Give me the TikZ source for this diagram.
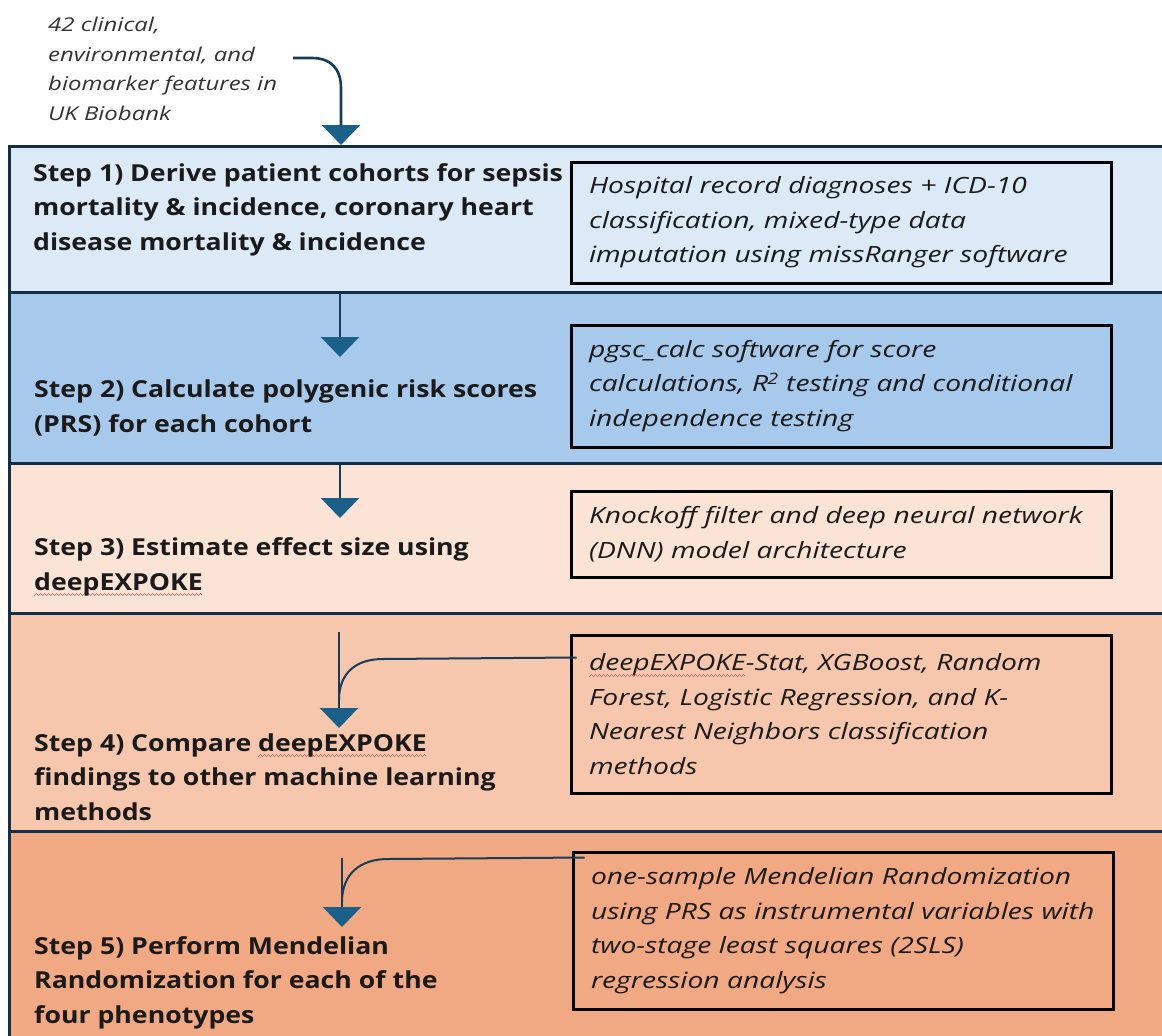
\documentclass[tikz,border=0pt]{standalone}
\usepackage{fontspec}
\setmainfont{Open Sans}[BoldFeatures={FakeStretch=1.14}, ItalicFeatures={FakeStretch=1.26}]
\usetikzlibrary{arrows.meta}
\definecolor{bandA}{HTML}{DCE9F7}
\definecolor{bandB}{HTML}{A7C9EB}
\definecolor{bandC}{HTML}{FBE3D6}
\definecolor{bandD}{HTML}{F6C6AD}
\definecolor{bandE}{HTML}{F1A983}
\definecolor{bordercol}{HTML}{132F45}
\definecolor{stemcol}{HTML}{163D57}
\definecolor{headcol}{HTML}{1A6089}
\definecolor{squig}{HTML}{E0605A}
\definecolor{txt}{HTML}{1A1A1A}
\newsavebox\spellbox
\newcommand\spellmark{\hbox{\begingroup\color{squig}\rule[-6pt]{1pt}{1pt}\rule[-5pt]{1pt}{1pt}\rule[-4pt]{1pt}{1pt}\rule[-5pt]{1pt}{1pt}\endgroup}}
\newcommand\spell[1]{\sbox\spellbox{#1}\rlap{\hbox to \wd\spellbox{\leaders\spellmark\hfill}}\usebox\spellbox}
\newcommand\oneline[1]{\mbox{#1}}
\begin{document}
\begin{tikzpicture}[x=1pt,y=-1pt,
  band/.style={draw=bordercol, line width=3pt, anchor=north west, minimum width=1180pt, inner sep=0pt},
  stepbox/.style={anchor=base west, align=left, inner sep=0pt, text=txt,
     font=\bfseries\fontsize{23.4}{34.5}\selectfont},
  infobox/.style={draw=black, line width=3pt, minimum width=540pt, text width=504pt,
     inner xsep=18pt, inner ysep=0pt, align=left, text=txt,
     font=\itshape\fontsize{22.4}{34.5}\selectfont},
  conn/.style={draw=stemcol, line width=2.6pt,
     -{Triangle[width=38pt,length=20pt,color=headcol]}},
  feed/.style={draw=stemcol, line width=2pt}]
\clip (0,0) rectangle (1162,1036);
\fill[white] (0,0) rectangle (1162,1036);
% bands
\node[band, fill=bandA, minimum height=146pt] (b1) at (8,145) {};
\node[band, fill=bandB, minimum height=171pt] (b2) at (8,291) {};
\node[band, fill=bandC, minimum height=150pt] (b3) at (8,462) {};
\node[band, fill=bandD, minimum height=218pt] (b4) at (8,612) {};
\node[band, fill=bandE, minimum height=230pt] (b5) at (8,830) {};
% top text (anchor = baseline of last line)
\node[anchor=base west, align=left, inner sep=0pt, text=black!80,
  font=\itshape\fontsize{19}{29.4}\selectfont] (t0) at (48,120)
  {42 clinical,\\environmental, and\\biomarker features in\\UK Biobank};
% step texts (anchor = baseline of last line)
\node[stepbox] (s1) at (33,250) {Step 1) Derive patient cohorts for sepsis\\mortality \& incidence, coronary heart\\disease mortality \& incidence};
\node[stepbox] (s2) at (34,432) {Step 2) Calculate polygenic risk scores\\(PRS) for each cohort};
\node[stepbox] (s3) at (34,590) {Step 3) Estimate effect size using\\\spell{deepEXPOKE}};
\node[stepbox] (s4) at (34,820) {Step 4) Compare \spell{deepEXPOKE}\\findings to other machine learning\\methods};
\node[stepbox] (s5) at (34,1023) {Step 5) Perform Mendelian\\Randomization for each of the\\four phenotypes};
% info boxes
\node[infobox, minimum height=121pt] (i1) at (841,222.5) {\oneline{Hospital record diagnoses + ICD-10}\\\oneline{classification, mixed-type data}\\\oneline{imputation using missRanger software}};
\node[infobox, minimum height=122pt] (i2) at (841,386) {\oneline{pgsc\_calc software for score}\\\oneline{calculations, \textit{R}\textsuperscript{\kern-1pt 2} testing and conditional}\\\oneline{independence testing}};
\node[infobox, minimum height=86pt] (i3) at (841,534) {\oneline{Knockoff filter and deep neural network}\\\oneline{(DNN) model architecture}};
\node[infobox, minimum height=158pt] (i4) at (841,714) {\oneline{\spell{deepEXPOKE}-Stat, XGBoost, Random}\\\oneline{Forest, Logistic Regression, and K-}\\\oneline{Nearest Neighbors classification}\\\oneline{methods}};
\node[infobox, minimum height=157pt] (i5) at (843,930.5) {\oneline{one-sample Mendelian Randomization}\\\oneline{using PRS as instrumental variables with}\\\oneline{two-stage least squares (2SLS)}\\\oneline{regression analysis}};
% connectors
\coordinate (a0) at (293,58);
\coordinate (x0) at (341,0);
\draw[conn] (a0) -- (312,58) .. controls (331,58) and (341,69) .. (341,88) -- (x0 |- b1.north);
\coordinate (tip2) at (340,357);
\draw[conn] (b1.south -| tip2) -- (tip2);
\coordinate (tip3) at (340,518);
\draw[conn] (b2.south -| tip3) -- (tip3);
\coordinate (top4) at (339,632);
\coordinate (tip4) at (339,728);
\draw[conn] (top4) -- (tip4);
\draw[feed] ([shift={(7,24)}]i4.north west) -- (383,659) .. controls (357,659) and (339,672) .. (339,700);
\coordinate (top5) at (342,858);
\coordinate (tip5) at (342,927);
\draw[conn] (top5) -- (tip5);
\draw[feed] ([shift={(13,7)}]i5.north west) -- (388,859) .. controls (361,859) and (342,873) .. (342,902);
\end{tikzpicture}
\end{document}
